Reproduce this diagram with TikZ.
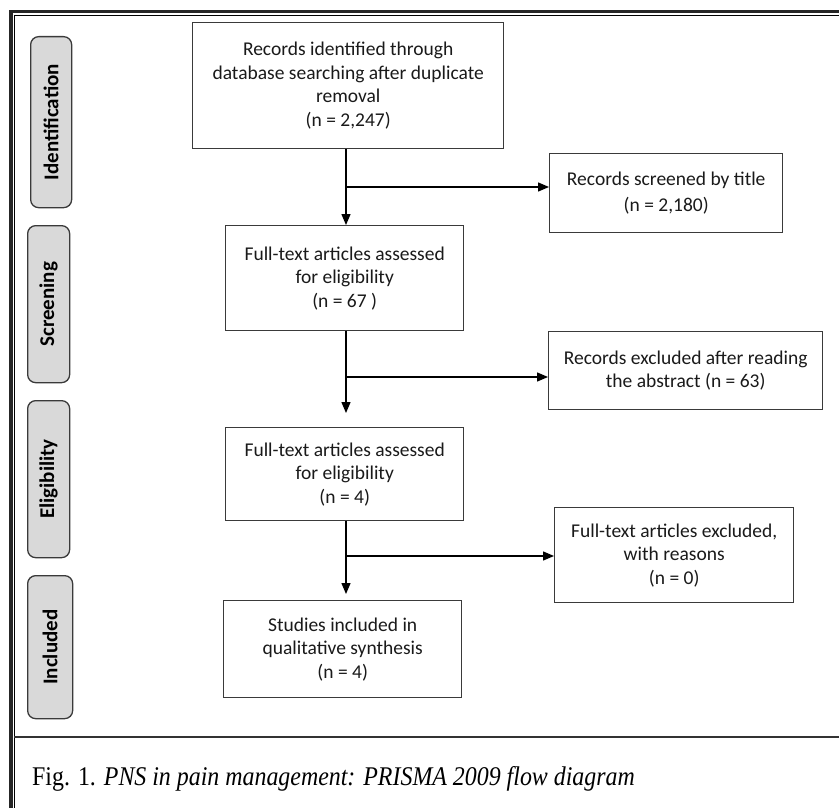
\documentclass[tikz,border=0pt]{standalone}
\usepackage{fontspec}
\setmainfont{Carlito}
\newfontfamily\capfont{Liberation Serif}
\usetikzlibrary{arrows.meta}
\definecolor{boxgray}{HTML}{3A3A3A}
\definecolor{phasefill}{HTML}{D9D9D9}
\definecolor{txt}{HTML}{1A1A1A}
\begin{document}
\begin{tikzpicture}[x=1pt,y=-1pt,
  box/.style={draw=boxgray, line width=1.4pt, align=center, inner sep=0pt, text=txt,
    font=\fontsize{19.5}{23.5}\selectfont, anchor=north west},
  phase/.style={draw=boxgray, fill=phasefill, line width=1.3pt, rounded corners=8pt,
    inner sep=0pt, anchor=north west, font=\fontsize{21}{24}\selectfont\bfseries},
  arr/.style={line width=1.4pt, -{Triangle[length=11pt,width=9pt]}}]
\useasboundingbox (0,0) rectangle (839,808);
\clip (0,0) rectangle (839,808);
\fill[white] (0,0) rectangle (839,808);
% frame
\draw[line width=3.2pt, black!85] (11,900) -- (11,11.5) -- (900,11.5);
\draw[line width=1.2pt, black] (14.4,900) -- (14.4,15.3) -- (900,15.3);
\draw[line width=1.5pt, black!80] (14.4,737) -- (900,737);
% phase labels
\node[phase, minimum width=41, minimum height=171] (ph1) at (30,36) {\rotatebox{90}{Identification}};
\node[phase, minimum width=42, minimum height=157] (ph2) at (27,225) {\rotatebox{90}{Screening}};
\node[phase, minimum width=42, minimum height=157] (ph3) at (27,400) {\rotatebox{90}{Eligibility}};
\node[phase, minimum width=45, minimum height=143] (ph4) at (27,575) {\rotatebox{90}{Included}};
% boxes
\node[box, minimum width=311, minimum height=126] (b1) at (192,22)
  {Records identified through\\database searching after duplicate\\removal\\(n = 2,247)};
\node[box, minimum width=233, minimum height=79, font=\fontsize{19.5}{26}\selectfont] (scr) at (549,153)
  {Records screened by title\\(n = 2,180)};
\node[box, minimum width=238, minimum height=105] (b2) at (225,225)
  {Full-text articles assessed\\for eligibility\\(n = 67 )};
\node[box, minimum width=274, minimum height=78] (abs) at (548,331)
  {Records excluded after reading\\the abstract (n = 63)};
\node[box, minimum width=238, minimum height=93] (b3) at (225,427)
  {Full-text articles assessed\\for eligibility\\(n = 4)};
\node[box, minimum width=239, minimum height=95] (full) at (554,507)
  {Full-text articles excluded,\\with reasons\\(n = 0)};
\node[box, minimum width=238, minimum height=97] (b4) at (223,600)
  {Studies included in\\qualitative synthesis\\(n = 4)};
% connectors
\coordinate (j1) at (346,187);
\coordinate (j2) at (346,377);
\coordinate (j3) at (346,556);
\draw[arr] (b1.south -| j1) -- (b2.north -| j1);
\draw[arr] (j1) -- (scr.west |- j1);
\draw[arr, shorten >=14pt] (b2.south -| j2) -- (b3.north -| j2);
\draw[arr] (j2) -- (abs.west |- j2);
\draw[arr, shorten >=6pt] (b3.south -| j3) -- (b4.north -| j3);
\draw[arr] (j3) -- (full.west |- j3);
% caption
\node[anchor=west, inner sep=0pt, font=\capfont\fontsize{27}{30}\selectfont] (cap) at (32,779)
  {\scalebox{0.885}[1]{Fig. 1. \textit{PNS in pain management: PRISMA 2009 flow diagram}}};
\end{tikzpicture}
\end{document}
